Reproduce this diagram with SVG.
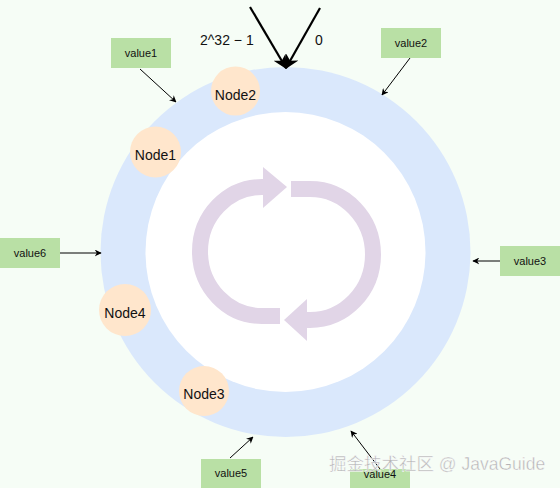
<svg xmlns="http://www.w3.org/2000/svg" width="560" height="488" viewBox="0 0 560 488">
<defs>
<style>
.bg{fill:#f6fdf6}
.node circle{fill:#ffe6cc}
.node text{font-family:"Liberation Sans",Helvetica,Arial,sans-serif;font-size:14px;fill:#111;text-anchor:middle;dominant-baseline:central}
.val rect{fill:#b9e0a5}
.val text{font-family:"Liberation Sans",Helvetica,Arial,sans-serif;font-size:11px;fill:#111;text-anchor:middle;dominant-baseline:central}
.conn line{stroke:#000;stroke-width:1;fill:none;marker-end:url(#ah)}
.top line{stroke:#000;stroke-width:2.2;marker-end:url(#ahb)}
.lbl{font-family:"Liberation Sans",Helvetica,Arial,sans-serif;font-size:14px;fill:#111}
.cyc path{fill:none;stroke:#e1d5e7;stroke-width:16}
.cyc polygon{fill:#e1d5e7}
</style>
<marker id="ah" viewBox="0 0 10 10" refX="9" refY="5" markerWidth="7" markerHeight="7" orient="auto" markerUnits="userSpaceOnUse">
<path d="M0,0 L10,5 L0,10 L3,5 Z" fill="#000"/>
</marker>
<marker id="ahb" viewBox="0 0 10 10" refX="9" refY="5" markerWidth="14" markerHeight="14" orient="auto" markerUnits="userSpaceOnUse">
<path d="M0,0 L10,5 L0,10 L3,5 Z" fill="#000"/>
</marker>
</defs>
<rect class="bg" x="0" y="0" width="560" height="488"/>
<g id="ring">
<circle cx="285.5" cy="252" r="185" fill="#dae8fc"/>
<circle cx="285.5" cy="252" r="140" fill="#ffffff"/>
</g>
<g id="cycle" class="cyc">
<path d="M280 316 L262 316 A62 64.5 0 0 1 262 187 L266 187"/>
<polygon points="263,167 263,208 287,187"/>
<path d="M291 189 L310 189 A63 65.5 0 0 1 310 320 L305 320"/>
<polygon points="307,299 307,341 284,320"/>
</g>
<g id="node2" class="node"><circle cx="235.5" cy="91" r="24.5"/><text x="235.5" y="95">Node2</text></g>
<g id="node1" class="node"><circle cx="155.5" cy="152" r="25.5"/><text x="155.5" y="155">Node1</text></g>
<g id="node4" class="node"><circle cx="125" cy="310" r="26"/><text x="125" y="313">Node4</text></g>
<g id="node3" class="node"><circle cx="204" cy="391" r="25"/><text x="204" y="394">Node3</text></g>
<g id="value1" class="val"><rect x="111" y="38" width="60" height="30"/><text x="141" y="53">value1</text></g>
<g id="value2" class="val"><rect x="381" y="28" width="60" height="30"/><text x="411" y="43">value2</text></g>
<g id="value6" class="val"><rect x="0" y="238" width="60" height="30"/><text x="30" y="253">value6</text></g>
<g id="value3" class="val"><rect x="500" y="246" width="60" height="30"/><text x="530" y="261">value3</text></g>
<g id="value5" class="val"><rect x="201" y="459" width="60" height="30"/><text x="231" y="473">value5</text></g>
<g id="value4" class="val"><rect x="350" y="469" width="60" height="30"/><text x="380" y="474">value4</text></g>
<g id="connectors" class="conn">
<line x1="140" y1="69" x2="176" y2="102"/>
<line x1="410" y1="58" x2="382" y2="95"/>
<line x1="60" y1="253" x2="101" y2="253"/>
<line x1="500" y1="261" x2="473" y2="261"/>
<line x1="230" y1="458" x2="253" y2="437"/>
<line x1="380" y1="469" x2="351" y2="431"/>
</g>
<g id="top" class="top">
<line x1="250" y1="7" x2="286" y2="68"/>
<line x1="320" y1="8" x2="286" y2="68"/>
</g>
<text class="lbl" x="200" y="45">2^32 − 1</text>
<text class="lbl" x="315" y="45">0</text>
<text x="329" y="470" font-family="'Liberation Sans','Noto Sans CJK SC',sans-serif" font-size="17.5" fill="#b4b4b4" stroke="#ffffff" stroke-width="0.4">掘金技术社区 @ JavaGuide</text>
</svg>
